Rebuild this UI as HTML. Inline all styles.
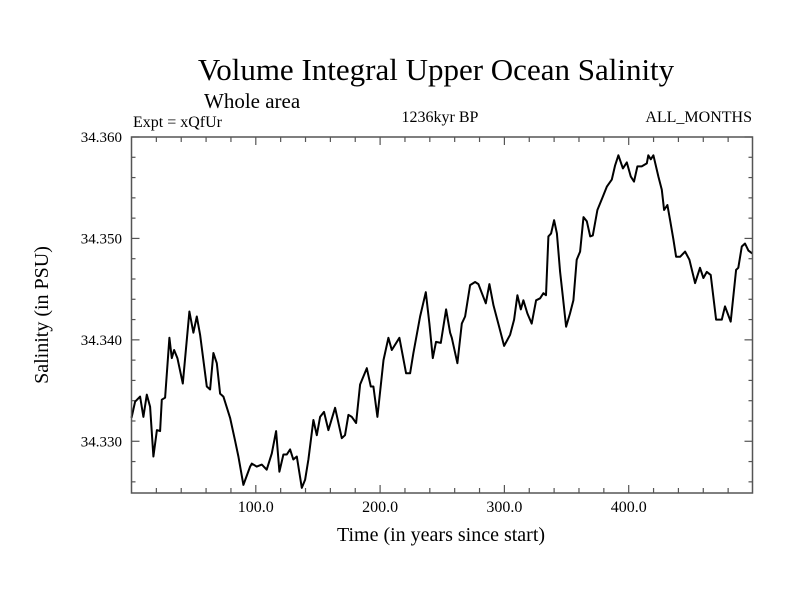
<!DOCTYPE html>
<html><head><meta charset="utf-8"><style>
body{margin:0;background:#fff;}
svg text{font-family:"Liberation Serif",serif;fill:#000;}
</style></head><body>
<svg id="chart" width="800" height="600" viewBox="0 0 800 600" xmlns="http://www.w3.org/2000/svg">
<rect width="800" height="600" fill="#fff"/>
<text x="436" y="80" font-size="31" text-anchor="middle">Volume Integral Upper Ocean Salinity</text>
<text x="204" y="108" font-size="21">Whole area</text>
<text x="133" y="127" font-size="16">Expt = xQfUr</text>
<text x="440" y="122" font-size="16" text-anchor="middle">1236kyr BP</text>
<text x="752" y="122" font-size="16" text-anchor="end">ALL_MONTHS</text>
<text x="441" y="541" font-size="20" text-anchor="middle">Time (in years since start)</text>
<text transform="translate(48,315) rotate(-90)" font-size="20" text-anchor="middle">Salinity (in PSU)</text>
<g id="axes"></g>
<path id="line" fill="none" stroke="#000" stroke-width="2" stroke-linejoin="round"/>
<rect x="131.5" y="137" width="621" height="356" fill="none" stroke="#555" stroke-width="1.5"/>
</svg>
<script>
const years=[0,2.9,6.9,9.6,12.3,15,17.6,20.4,23,24.4,27,30.5,32.4,34.3,36.9,41.3,46.6,49.8,52.5,55.2,60.6,63.2,65.9,68.6,71.3,73.9,79.3,83.3,86,90,95.4,96.8,100.8,104.8,108.8,112.9,116.3,119,122.2,124.9,127.6,130.2,133,137,139.7,142.3,146.3,149.1,151.7,154.9,158.4,163.8,169.2,171.8,174.5,177.2,180.7,183.9,189.3,192.5,194.6,197.8,202.7,206.7,209.4,215.5,220.9,224.1,226.8,232.2,236.8,239.7,242.4,245,248.8,253.1,256.3,257.7,262.2,265.7,268.4,272.4,276.4,279.1,285,287.9,291.2,296,299.8,304.6,307.8,310.5,313.2,315.3,318.5,322,325.5,328.7,331.4,333.5,335.4,337.6,340,342.2,344.8,347,349.6,352.8,355.5,358.2,360.9,363.6,366.3,369,371.1,374.8,379.2,382.4,386.4,389.1,391.7,395.3,398.5,401.7,404.3,407,410.5,414.6,415.8,417.8,419.9,423.9,426.6,428.5,431.1,433.3,436,438.1,441.4,445.4,448.8,453.4,457.4,460.1,462.8,466,470.3,474.9,477.5,482.1,486.4,488.2,491,493.6,496.3,499.5];
const salinity=[34.3323,34.3339,34.3344,34.3324,34.3346,34.3334,34.3285,34.3311,34.3310,34.3341,34.3343,34.3402,34.3382,34.3390,34.3382,34.3357,34.3428,34.3407,34.3423,34.3405,34.3354,34.3351,34.3387,34.3377,34.3347,34.3344,34.3323,34.3301,34.3285,34.3257,34.3275,34.3278,34.3275,34.3277,34.3272,34.3288,34.3310,34.3270,34.3287,34.3287,34.3292,34.3282,34.3285,34.3254,34.3262,34.3282,34.3321,34.3306,34.3324,34.3329,34.3311,34.3333,34.3303,34.3306,34.3326,34.3324,34.3318,34.3356,34.3372,34.3354,34.3354,34.3324,34.3380,34.3402,34.3390,34.3402,34.3367,34.3367,34.3387,34.3423,34.3447,34.3416,34.3382,34.3398,34.3397,34.3430,34.3407,34.3402,34.3377,34.3416,34.3423,34.3454,34.3457,34.3455,34.3436,34.3455,34.3434,34.3412,34.3394,34.3405,34.3420,34.3444,34.3430,34.3439,34.3426,34.3416,34.3439,34.3441,34.3446,34.3444,34.3502,34.3505,34.3518,34.3505,34.3467,34.3443,34.3413,34.3426,34.3439,34.3479,34.3487,34.3521,34.3517,34.3502,34.3503,34.3528,34.3541,34.3551,34.3558,34.3572,34.3582,34.3569,34.3575,34.3561,34.3556,34.3571,34.3571,34.3574,34.3582,34.3578,34.3582,34.3561,34.3548,34.3528,34.3533,34.3518,34.3499,34.3482,34.3482,34.3487,34.3479,34.3456,34.3471,34.3461,34.3467,34.3464,34.3420,34.3420,34.3433,34.3418,34.3469,34.3471,34.3492,34.3495,34.3488,34.3485];
const xTickLabels=["100.0","200.0","300.0","400.0"];
const xTickValues=[100,200,300,400];
const yTickLabels=["34.330","34.340","34.350","34.360"];
const yTickValues=[34.330,34.340,34.350,34.360];

const X0=131.5,X1=752.5,Y0=137,Y1=493;
const xMin=0,xMax=499.6,yMin=34.3249,yMax=34.360;
const sx=v=>X0+(v-xMin)/(xMax-xMin)*(X1-X0);
const sy=v=>Y1-(v-yMin)/(yMax-yMin)*(Y1-Y0);
const NS="http://www.w3.org/2000/svg";
const axes=document.getElementById('axes');
function ln(x1,y1,x2,y2,name){const l=document.createElementNS(NS,'line');
l.setAttribute('x1',x1);l.setAttribute('y1',y1);l.setAttribute('x2',x2);l.setAttribute('y2',y2);
l.setAttribute('stroke','#555');l.setAttribute('stroke-width','1.2');


axes.appendChild(l);}
for(let v=20;v<500;v+=20){const x=sx(v);const major=v%100===0;const L=major?8:5;
ln(x,Y1,x,Y1-L,'x-tick');ln(x,Y0,x,Y0+L,'x-tick-top');}
for(let k=0;k<=17;k++){const v=34.326+k*0.002;if(v>yMax+1e-9)break;const y=sy(v);
const major=Math.round(v*1e4)%100===0;
const L=major?8:4;ln(X0,y,X0+L,y,'y-tick');ln(X1,y,X1-L,y,'y-tick-right');}
xTickLabels.forEach((t,i)=>{const e=document.createElementNS(NS,'text');
e.setAttribute('x',sx(xTickValues[i]));e.setAttribute('y',512);e.setAttribute('font-size','16');e.setAttribute('text-anchor','middle');e.textContent=t;


axes.appendChild(e);});
yTickLabels.forEach((t,i)=>{const e=document.createElementNS(NS,'text');
e.setAttribute('x',122);e.setAttribute('y',sy(yTickValues[i])+5);e.setAttribute('font-size','15');e.setAttribute('text-anchor','end');e.textContent=t;


axes.appendChild(e);});
document.getElementById('line').setAttribute('d',years.map((x,i)=>(i?'L':'M')+sx(x).toFixed(1)+' '+sy(salinity[i]).toFixed(1)).join(''));
</script>
</body></html>
